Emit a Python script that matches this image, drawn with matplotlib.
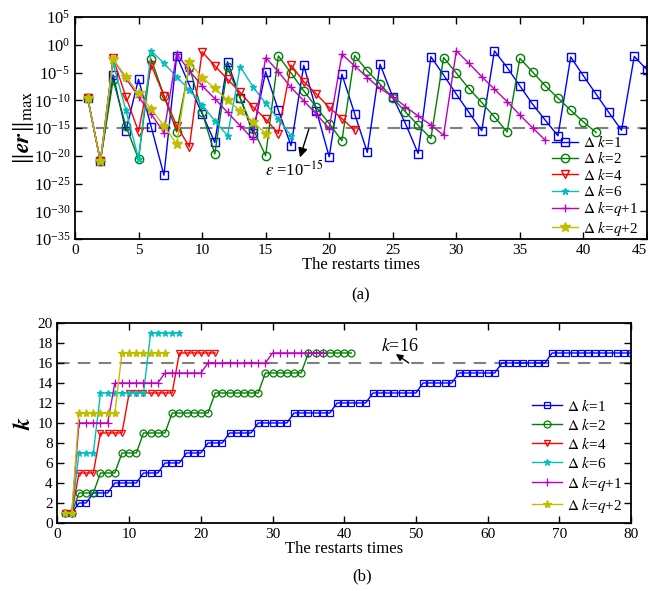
import matplotlib
matplotlib.use("Agg")
import matplotlib.pyplot as plt
import numpy as np

plt.rcParams['font.family'] = ['serif']
plt.rcParams['font.serif'] = ['Liberation Serif', 'DejaVu Serif']
plt.rcParams['mathtext.fontset'] = 'stix'

# ---- panel (a): log10 of ||er||_max per restart ----
err_dk1 = [-9.6, -21, -5.45, -15.5, -6.2, -14.8, -23.5, -2.0, -7.3, -12.4, -17.6, -3.05,
           -9.6, -15.9, -4.85, -11.8, -18.2, -3.7, -11.9, -20.2, -5.3, -12.4, -19.4, -3.5,
           -9.4, -14.2, -19.6, -2.15, -5.45, -8.9, -12.2, -15.5, -1.1, -4.1, -7.4, -10.7,
           -13.6, -16.4, -2.2, -5.6, -8.9, -12.2, -15.4, -2.1, -4.5]
err_dk2 = [-9.6, -21, -6.35, -14.6, -20.6, -2.6, -9.2, -15.7, -3.95, -12.1, -19.7, -4.07,
           -9.65, -15.1, -20.0, -2.0, -5.1, -8.3, -11.3, -14.2, -17.3, -1.95, -4.7, -7.1,
           -9.6, -12.1, -14.5, -16.9, -2.3, -5.1, -7.9, -10.4, -13.0, -15.7, -2.45, -4.9,
           -7.4, -9.6, -11.8, -13.9, -15.8]
err_dk4 = [-9.6, -21, -2.45, -9.35, -15.65, -3.65, -9.2, -14.6, -18.4, -1.25, -3.8, -6.2,
           -8.6, -11.2, -13.4, -16.0, -3.65, -6.65, -8.9, -11.3, -13.3, -15.4]
err_dk6 = [-9.6, -21, -3.35, -11.75, -20.5, -1.07, -3.35, -5.75, -8.15, -10.85, -13.7,
           -16.4, -3.95, -7.55, -10.55, -13.4, -16.4]
err_dkq1 = [-9.6, -21, -2.6, -6.0, -9.35, -12.5, -15.85, -1.6, -4.7, -7.4, -9.7, -12.2,
            -14.6, -17.0, -2.3, -4.85, -7.7, -10.1, -12.5, -15.1, -1.7, -3.8, -5.9, -7.85,
            -9.35, -11.15, -12.85, -14.45, -16.3, -1.1, -3.35, -5.75, -8.0, -10.25, -12.65,
            -14.95, -17.2]
err_dkq2 = [-9.6, -21, -2.6, -5.75, -8.75, -11.6, -14.6, -17.9, -3.15, -5.9, -7.85, -9.95,
            -11.9, -13.85, -16.0]

# ---- panel (b): subspace size k per restart ----
k_dk1 = [1, 1, 2, 2, 3, 3, 3, 4, 4, 4, 4, 5, 5, 5, 6, 6, 6, 7, 7, 7, 8, 8, 8, 9, 9, 9, 9,
         10, 10, 10, 10, 10, 11, 11, 11, 11, 11, 11, 12, 12, 12, 12, 12,
         13, 13, 13, 13, 13, 13, 13, 14, 14, 14, 14, 14, 15, 15, 15, 15, 15, 15,
         16, 16, 16, 16, 16, 16, 16, 17, 17, 17, 17, 17, 17, 17, 17, 17, 17, 17, 17]
k_dk2 = [1, 1, 3, 3, 3, 5, 5, 5, 7, 7, 7, 9, 9, 9, 9, 11, 11, 11, 11, 11, 11,
         13, 13, 13, 13, 13, 13, 13, 15, 15, 15, 15, 15, 15, 17, 17, 17, 17, 17, 17, 17]
k_dk4 = [1, 1, 5, 5, 5, 9, 9, 9, 9, 13, 13, 13, 13, 13, 13, 13, 17, 17, 17, 17, 17, 17]
k_dk6 = [1, 1, 7, 7, 7, 13, 13, 13, 13, 13, 13, 13, 19, 19, 19, 19, 19]
k_dkq1 = [1, 1, 10, 10, 10, 10, 10, 14, 14, 14, 14, 14, 14, 14, 15, 15, 15, 15, 15, 15,
          16, 16, 16, 16, 16, 16, 16, 16, 16, 17, 17, 17, 17, 17, 17, 17, 17]
k_dkq2 = [1, 1, 11, 11, 11, 11, 11, 11, 17, 17, 17, 17, 17, 17, 17]

labels = [r'$\mathit{\Delta\ k}$=1', r'$\mathit{\Delta\ k}$=2', r'$\mathit{\Delta\ k}$=4',
          r'$\mathit{\Delta\ k}$=6', r'$\mathit{\Delta\ k}$=$\mathit{q}$+1',
          r'$\mathit{\Delta\ k}$=$\mathit{q}$+2']
colors = ['#0000ff', '#008000', '#ff0000', '#00bfbf', '#bf00bf', '#bfbf00']
markers = ['s', 'o', 'v', '*', '+', '*']
hollow = [True, True, True, False, False, False]
sizes_a = [6, 6, 6, 5, 6, 7]
sizes_b = [5, 5, 5, 5, 6, 6]

fig = plt.figure(figsize=(6.48, 5.91), dpi=100)
ax1 = fig.add_axes([0.1157, 0.5956, 0.8827, 0.3756])
ax2 = fig.add_axes([0.0887, 0.1151, 0.885, 0.3384])

errs = [err_dk1, err_dk2, err_dk4, err_dk6, err_dkq1, err_dkq2]
for e, c, m, h, ms, lab in zip(errs, colors, markers, hollow, sizes_a, labels):
    x = np.arange(1, len(e) + 1)
    ax1.plot(x, 10.0 ** np.array(e), color=c, marker=m, ms=ms, lw=1.0,
             mfc='none' if h else c, mew=1.0, label=lab)

ax1.axhline(1e-15, color='0.5', lw=1.5, ls=(0, (6, 4)), zorder=0)
ax1.set_yscale('log')
ax1.set_ylim(1e-35, 1e5)
ax1.set_xlim(0, 45)
ax1.set_xticks(np.arange(0, 46, 5))
ax1.set_yticks([10.0 ** p for p in range(-35, 6, 5)])
ax1.yaxis.set_minor_locator(matplotlib.ticker.NullLocator())
ax1.set_xlabel('The restarts times', fontsize=12, labelpad=0)
ax1.set_ylabel(r'$\Vert\boldsymbol{er}\Vert_{\max}$', fontsize=17, labelpad=-2)
ax1.annotate('', xy=(17.7, 10 ** -20.3), xytext=(18.4, 10 ** -15.2),
             arrowprops=dict(arrowstyle='-|>', color='black', lw=1.0, mutation_scale=14,
                             shrinkA=0, shrinkB=0))
ax1.text(17.3, 10 ** -22.6, r'$\varepsilon$ =10$^{-15}$', fontsize=12,
         ha='center', va='center')
ax1.legend(loc='lower right', bbox_to_anchor=(1.0, -0.035), frameon=False, fontsize=11,
           handlelength=1.7, handletextpad=0.3, labelspacing=0.02, borderaxespad=0.2)

ks = [k_dk1, k_dk2, k_dk4, k_dk6, k_dkq1, k_dkq2]
for k, c, m, h, ms, lab in zip(ks, colors, markers, hollow, sizes_b, labels):
    x = np.arange(1, len(k) + 1)
    ax2.plot(x, k, color=c, marker=m, ms=ms, lw=1.0,
             mfc='none' if h else c, mew=0.9, label=lab)

ax2.axhline(16, color='0.5', lw=1.5, ls=(0, (6, 4)), zorder=0)
ax2.set_xlim(0, 80)
ax2.set_ylim(0, 20)
ax2.set_xticks(np.arange(0, 81, 10))
ax2.set_yticks(np.arange(0, 21, 2))
ax2.set_xlabel('The restarts times', fontsize=12, labelpad=0)
ax2.set_ylabel(r'$\boldsymbol{k}$', fontsize=17, labelpad=2)
ax2.annotate('', xy=(47.2, 16.9), xytext=(49.0, 16.0),
             arrowprops=dict(arrowstyle='-|>', color='black', lw=1.0, mutation_scale=10,
                             shrinkA=0, shrinkB=0))
ax2.text(47.8, 17.6, r'$\mathit{k}$=16', fontsize=13, ha='center', va='center')
ax2.legend(loc='lower right', bbox_to_anchor=(1.0, -0.005), frameon=False, fontsize=11,
           handlelength=2.0, handletextpad=0.3, labelspacing=0.2, borderaxespad=0.2)

for ax in (ax1, ax2):
    ax.tick_params(direction='in', top=True, right=True, length=5, width=1.0,
                   labelsize=11)
    for s in ax.spines.values():
        s.set_linewidth(1.3)
ax1.tick_params(axis='y', labelsize=12)
fig.canvas.draw()
ax1.get_xticklabels()[-1].set_horizontalalignment('right')

fig.text(0.556, 0.501, '(a)', fontsize=12, ha='center', va='center')
fig.text(0.559, 0.024, '(b)', fontsize=12, ha='center', va='center')

fig.savefig('out.png', dpi=100)
